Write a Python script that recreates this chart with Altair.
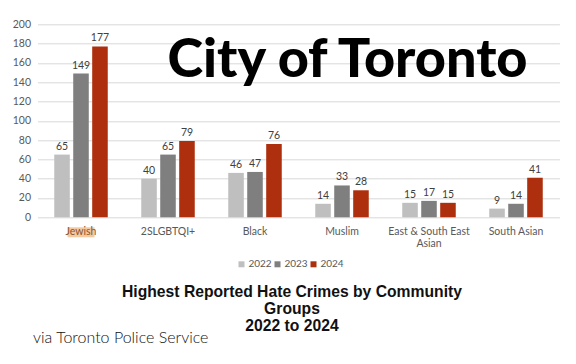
import altair as alt
import pandas as pd

categories = ["Jewish", "2SLGBTQI+", "Black", "Muslim", "East & South East\nAsian", "South Asian"]
years = ["2022", "2023", "2024"]
v2022 = [65, 40, 46, 14, 15, 9]
v2023 = [149, 65, 47, 33, 17, 14]
v2024 = [177, 79, 76, 28, 15, 41]
colors = ["#bfbfbf", "#7f7f7f", "#ad2f0d"]
y_ticks = [0, 20, 40, 60, 80, 100, 120, 140, 160, 180, 200]
title_lines = ["Highest Reported Hate Crimes by Community", "Groups", "2022 to 2024"]

rows = []
for yr, vals in zip(years, [v2022, v2023, v2024]):
    for c, v in zip(categories, vals):
        rows.append({"group": c, "year": yr, "value": v})
df = pd.DataFrame(rows)
cat_df = pd.DataFrame({"group": categories})

W, H = 522, 193
xenc = alt.X("group:N", sort=categories, axis=None,
             scale=alt.Scale(paddingInner=0.385, paddingOuter=0.1925))
xoff = alt.XOffset("year:N", sort=years, scale=alt.Scale(paddingInner=0.18))
yenc = alt.Y("value:Q", title=None,
             scale=alt.Scale(domain=[0, 200], nice=False),
             axis=alt.Axis(values=y_ticks, grid=True, gridColor="#d9d9d9", gridWidth=1,
                           domain=False, ticks=False, labelColor="#595959",
                           labelFont="Lato", labelFontSize=10.5, labelPadding=7))

bars = alt.Chart(df).mark_bar().encode(
    x=xenc, xOffset=xoff, y=yenc,
    color=alt.Color("year:N", sort=years,
                    scale=alt.Scale(domain=years, range=colors),
                    legend=alt.Legend(title=None, orient="none", direction="horizontal",
                                      legendX=199, legendY=235, symbolType="square",
                                      symbolSize=36, symbolStrokeWidth=0,
                                      labelFont="Lato", labelFontSize=10,
                                      labelColor="#595959", columnPadding=0,
                                      labelOffset=2, padding=0)),
)

vals = alt.Chart(df).mark_text(dy=-8, font="Lato", fontSize=10.5, color="#404040").encode(
    x=xenc, xOffset=xoff, y=yenc, text="value:Q"
)

hl = alt.Chart(cat_df).transform_filter(alt.datum.group == "Jewish").mark_bar(
    width=27, color="#f3c9a2"
).encode(x=xenc, y=alt.value(203), y2=alt.value(213))

cat_labels = alt.Chart(cat_df).mark_text(
    font="Lato", fontSize=10.5, baseline="middle", lineBreak="\n", lineHeight=12
).encode(
    x=xenc, y=alt.value(208), text="group:N",
    color=alt.condition(alt.datum.group == "Jewish", alt.value("#8a5530"), alt.value("#595959")),
)

city = alt.Chart(alt.Data(values=[{}])).mark_text(
    text="City of Toronto", font="Lato", fontWeight=900, fontSize=54,
    color="#000000", baseline="alphabetic", align="center"
).encode(x=alt.value(310), y=alt.value(53))

title = alt.Chart(alt.Data(values=[{}])).mark_text(
    text=title_lines, font="Liberation Sans", fontWeight="bold", fontSize=15.7,
    color="#111111", baseline="middle", align="center", lineHeight=17
).encode(x=alt.value(254.5), y=alt.value(268))

source = alt.Chart(alt.Data(values=[{}])).mark_text(
    text="via Toronto Police Service", font="Lato", fontWeight=300, fontSize=16,
    color="#111111", baseline="middle", align="left"
).encode(x=alt.value(-4.5), y=alt.value(314))

chart = alt.layer(hl, bars, vals, cat_labels, city, title, source).properties(
    width=W, height=H,
    autosize=alt.AutoSizeParams(type="none"),
    padding={"left": 29.5, "top": 16.3, "right": 8, "bottom": 130},
    background="#ffffff",
).configure_view(stroke=None)

chart.save("out.html", embed_options={"renderer": "svg", "actions": False})
